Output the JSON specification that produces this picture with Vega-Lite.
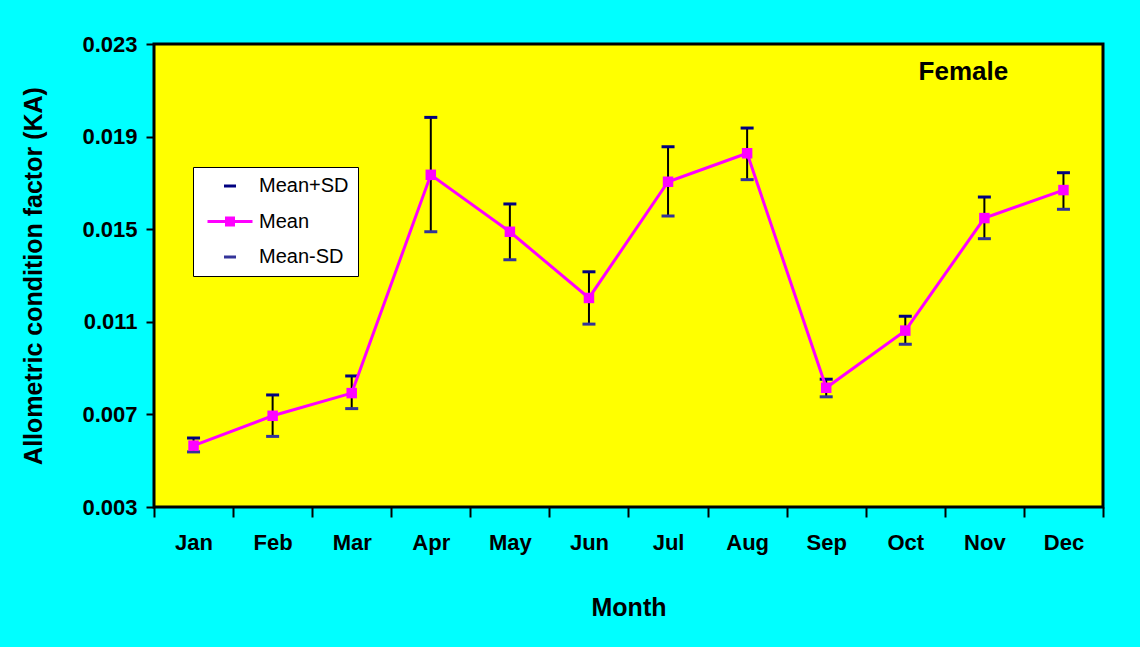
{
  "$schema": "https://vega.github.io/schema/vega-lite/v6.json",
  "width": 949,
  "height": 463,
  "autosize": "none",
  "padding": {"left": 154, "top": 44, "right": 37, "bottom": 140},
  "background": "#00FFFF",
  "config": {
    "font": "Liberation Sans",
    "view": {"fill": "#FFFF00", "stroke": "#000000", "strokeWidth": 3}
  },
  "data": {
    "values": [
      {"month": "Jan", "mean": 0.00565, "plus": 0.00598, "minus": 0.00538},
      {"month": "Feb", "mean": 0.00694, "plus": 0.00784, "minus": 0.00605},
      {"month": "Mar", "mean": 0.00792, "plus": 0.00866, "minus": 0.00725},
      {"month": "Apr", "mean": 0.01735, "plus": 0.01983, "minus": 0.01489},
      {"month": "May", "mean": 0.01489, "plus": 0.01609, "minus": 0.01368},
      {"month": "Jun", "mean": 0.01203, "plus": 0.01316, "minus": 0.01090},
      {"month": "Jul", "mean": 0.01705, "plus": 0.01856, "minus": 0.01557},
      {"month": "Aug", "mean": 0.01828, "plus": 0.01937, "minus": 0.01714},
      {"month": "Sep", "mean": 0.00815, "plus": 0.00852, "minus": 0.00776},
      {"month": "Oct", "mean": 0.01062, "plus": 0.01124, "minus": 0.01003},
      {"month": "Nov", "mean": 0.01548, "plus": 0.01639, "minus": 0.01459},
      {"month": "Dec", "mean": 0.01669, "plus": 0.01744, "minus": 0.01586}
    ]
  },
  "layer": [
    {
      "mark": {"type": "rule", "color": "#000000", "strokeWidth": 2},
      "encoding": {
        "x": {
          "field": "month", "type": "nominal",
          "sort": ["Jan","Feb","Mar","Apr","May","Jun","Jul","Aug","Sep","Oct","Nov","Dec"],
          "scale": {"paddingInner": 0, "paddingOuter": 0},
          "axis": {
            "title": "Month", "titleFontSize": 25, "titleFontWeight": "bold", "titleColor": "#000000",
            "titlePadding": 42,
            "labelAngle": 0, "labelFontSize": 22, "labelFontWeight": "bold", "labelColor": "#000000",
            "labelPadding": 15, "tickBand": "extent", "tickSize": 10, "tickWidth": 2, "tickColor": "#000000",
            "domain": false, "grid": false
          }
        },
        "y": {
          "field": "minus", "type": "quantitative",
          "scale": {"domain": [0.003, 0.023], "nice": false, "zero": false},
          "axis": {
            "title": "Allometric condition factor (KA)", "titleFontSize": 25, "titleFontWeight": "bold", "titleColor": "#000000",
            "titlePadding": 35,
            "values": [0.003, 0.007, 0.011, 0.015, 0.019, 0.023], "format": ".3f",
            "labelFontSize": 22, "labelFontWeight": "bold", "labelColor": "#000000", "labelPadding": 9,
            "tickSize": 8, "tickWidth": 2, "tickColor": "#000000", "domain": false, "grid": false
          }
        },
        "y2": {"field": "plus"}
      }
    },
    {
      "mark": {"type": "tick", "thickness": 3, "size": 13, "opacity": 1},
      "encoding": {
        "x": {"field": "month", "type": "nominal", "sort": ["Jan","Feb","Mar","Apr","May","Jun","Jul","Aug","Sep","Oct","Nov","Dec"]},
        "y": {"field": "plus", "type": "quantitative"},
        "color": {
          "datum": "Mean+SD",
          "scale": {"domain": ["Mean+SD", "Mean", "Mean-SD"], "range": ["#000080", "#FF00FF", "#333399"]},
          "legend": {
            "title": null, "orient": "none", "legendX": 39, "legendY": 123,
            "fillColor": "#FFFFFF", "strokeColor": "#000000", "padding": 9,
            "labelFontSize": 20, "labelColor": "#000000", "labelOffset": 19, "rowPadding": 15.5,
            "symbolSize": 400, "symbolOffset": 18, "symbolStrokeWidth": 0,
            "symbolType": {"expr": "datum.value === 'Mean' ? 'M-2.25,-0.15H2.25V0.15H-2.25ZM-0.5,-0.5H0.5V0.5H-0.5Z' : 'M-0.6,-0.15H0.6V0.15H-0.6Z'"},
            "encode": {
              "legend": {"strokeWidth": {"value": 2}},
              "symbols": {
                "opacity": {"value": 1},
                "fillOpacity": {"value": 1}
              }
            }
          }
        }
      }
    },
    {
      "mark": {"type": "tick", "thickness": 3, "size": 13, "opacity": 1},
      "encoding": {
        "x": {"field": "month", "type": "nominal", "sort": ["Jan","Feb","Mar","Apr","May","Jun","Jul","Aug","Sep","Oct","Nov","Dec"]},
        "y": {"field": "minus", "type": "quantitative"},
        "color": {"datum": "Mean-SD"}
      }
    },
    {
      "mark": {"type": "line", "strokeWidth": 3, "point": {"shape": "square", "size": 110, "filled": true, "opacity": 1}},
      "encoding": {
        "x": {"field": "month", "type": "nominal", "sort": ["Jan","Feb","Mar","Apr","May","Jun","Jul","Aug","Sep","Oct","Nov","Dec"]},
        "y": {"field": "mean", "type": "quantitative"},
        "color": {"datum": "Mean"}
      }
    },
    {
      "data": {"values": [{"label": "Female"}]},
      "mark": {"type": "text", "fontSize": 26, "fontWeight": "bold", "color": "#000000", "dx": -21},
      "encoding": {
        "x": {"datum": "Nov"},
        "y": {"datum": 0.0218},
        "text": {"field": "label"}
      }
    }
  ]
}
